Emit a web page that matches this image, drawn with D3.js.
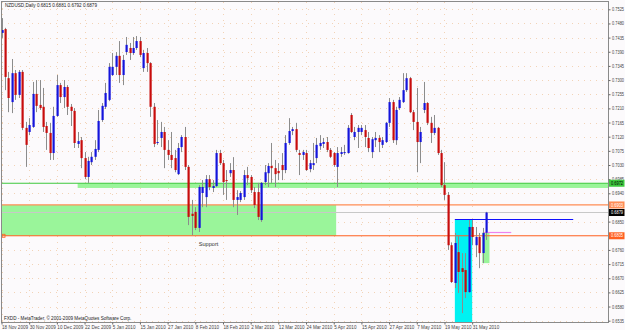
<!DOCTYPE html>
<html><head><meta charset="utf-8">
<script src="https://cdn.jsdelivr.net/npm/d3@7"></script>
<style>
body { margin: 0; background: #fcfafc; }
text { font-family: 'Liberation Sans', Arial, sans-serif; }
</style></head>
<body>
<svg id="chart" width="625" height="330"></svg>
<script>
// NZDUSD daily bars, 18 Nov 2009 -> early Jun 2010
const opens = [.7450,.7462,.7306,.7230,.7322,.7253,.7326,.7148,.7135,.7151,.7256,.7221,.7215,.7154,.7132,.7068,.7186,.7284,.7246,.7278,
	.7215,.7202,.7097,.7109,.7052,.6992,.7039,.7056,.7078,.7173,.7215,.7237,.7316,.7342,.7377,.7316,.7389,.7402,.7386,.7402,
	.7424,.7338,.7386,.7354,.7215,.7100,.7116,.7135,.7078,.7062,.7052,.7001,.7087,.7119,.7024,.6875,.6881,.6830,.6941,.6928,
	.6985,.6957,.6963,.7068,.7036,.6982,.7004,.7014,.6919,.6919,.6928,.6998,.6992,.6944,.6944,.6855,.6976,.7004,.7027,.7020,
	.7011,.7030,.7014,.7100,.7138,.7144,.7068,.7062,.7068,.7017,.7030,.7052,.7090,.7097,.7103,.7078,.7068,.7024,.7065,.7068,
	.7068,.7189,.7119,.7135,.7135,.7141,.7116,.7071,.7109,.7116,.7094,.7103,.7164,.7230,.7109,.7211,.7230,.7268,.7306,.7198,
	.7167,.7103,.7205,.7227,.7164,.7132,.7148,.7068,.6966,.6935,.6775,.6655,.6753,.6702,.6696,.6626,.6833,.6775,.6801,.6750,.6815]
const highs = [.7497,.7466,.7326,.7367,.7332,.7332,.7332,.7167,.7179,.7294,.7300,.7300,.7275,.7167,.7164,.7215,.7316,.7291,.7300,.7284,
	.7224,.7211,.7135,.7119,.7071,.7056,.7071,.7109,.7205,.7227,.7291,.7354,.7386,.7389,.7424,.7380,.7437,.7418,.7437,.7440,
	.7437,.7396,.7402,.7357,.7227,.7173,.7167,.7151,.7109,.7135,.7078,.7100,.7125,.7151,.7030,.6919,.6896,.6966,.6982,.6998,
	.6998,.6982,.7078,.7078,.7046,.7014,.7036,.7055,.6950,.6947,.7014,.7024,.6998,.6960,.6973,.6976,.7030,.7036,.7100,.7046,
	.7036,.7068,.7125,.7179,.7151,.7164,.7078,.7078,.7078,.7046,.7100,.7116,.7125,.7116,.7119,.7084,.7071,.7087,.7087,.7094,
	.7157,.7195,.7151,.7157,.7157,.7157,.7135,.7119,.7135,.7125,.7119,.7167,.7243,.7237,.7215,.7246,.7322,.7322,.7310,.7205,
	.7275,.7151,.7294,.7230,.7183,.7189,.7151,.7078,.7039,.6944,.6784,.6814,.6807,.6750,.6750,.6855,.6855,.6833,.6814,.6830,.6881]
const lows = [.7434,.7268,.7198,.7195,.7237,.7243,.7141,.7024,.7125,.7148,.7198,.7205,.7135,.7078,.7046,.7046,.7183,.7227,.7211,.7189,
	.7154,.7084,.7084,.7020,.6985,.6973,.7030,.7046,.7071,.7167,.7208,.7233,.7313,.7316,.7291,.7284,.7380,.7364,.7380,.7396,
	.7373,.7326,.7326,.7183,.7087,.7094,.7087,.7020,.7046,.7020,.7007,.6998,.7071,.7014,.6839,.6807,.6823,.6817,.6896,.6896,
	.6950,.6944,.6960,.7030,.6935,.6919,.6992,.6896,.6871,.6912,.6919,.6966,.6941,.6893,.6855,.6849,.6966,.6960,.6973,.6960,
	.6982,.6982,.7004,.7094,.7125,.7071,.6998,.7046,.7011,.7007,.7014,.7036,.7078,.7084,.7071,.7052,.7024,.6960,.7056,.7062,
	.7066,.7132,.7109,.7084,.7125,.7087,.7071,.7052,.7087,.7071,.7084,.7100,.7151,.7100,.7094,.7205,.7227,.7262,.7195,.7141,
	.7007,.7036,.7195,.7157,.7100,.7125,.7062,.6960,.6919,.6760,.6655,.6639,.6623,.6559,.6607,.6623,.6775,.6737,.6702,.6718,.6792]
const closes = [.7459,.7310,.7243,.7322,.7253,.7326,.7148,.7094,.7157,.7256,.7218,.7211,.7151,.7132,.7068,.7186,.7284,.7246,.7278,.7215,
	.7202,.7100,.7106,.7052,.6992,.7043,.7056,.7081,.7170,.7218,.7259,.7342,.7342,.7377,.7316,.7364,.7412,.7386,.7402,.7424,
	.7380,.7386,.7354,.7215,.7097,.7103,.7135,.7078,.7062,.7046,.7014,.7084,.7119,.7024,.6865,.6868,.6830,.6960,.6960,.6985,
	.6960,.6963,.7068,.7036,.6976,.6979,.7014,.6919,.6928,.6941,.6998,.6988,.6950,.6903,.6865,.6973,.7007,.7027,.7020,.7001,
	.7004,.7014,.7100,.7138,.7144,.7078,.7062,.7071,.7014,.7036,.7036,.7094,.7100,.7103,.7078,.7056,.7030,.7068,.7071,.7071,
	.7148,.7135,.7135,.7148,.7148,.7119,.7084,.7112,.7116,.7103,.7109,.7164,.7230,.7109,.7205,.7237,.7268,.7306,.7198,.7167,
	.7103,.7135,.7227,.7164,.7132,.7148,.7068,.6966,.6935,.6775,.6658,.6782,.6690,.6690,.6626,.6833,.6801,.6801,.6750,.6814,.6879]

const dateLabels = ['18 Nov 2009','30 Nov 2009','10 Dec 2009','22 Dec 2009','5 Jan 2010','15 Jan 2010','27 Jan 2010','8 Feb 2010',
	'18 Feb 2010','2 Mar 2010','12 Mar 2010','24 Mar 2010','5 Apr 2010','15 Apr 2010','27 Apr 2010','7 May 2010','19 May 2010','31 May 2010']
const barsPerLabel = 8
const priceTicks = [.7525,.7480,.7435,.7390,.7345,.7300,.7255,.7210,.7165,.7120,.7075,.7030,.6985,.6940,.6850,.6760,.6715,.6670,.6625,.6580,.6535]

// horizontal levels: resistance, upper support, bid, lower support
const levels = [.6972, .6903, .6879, .6805]
// zones as [fromBar, toBar, lowPrice, highPrice]
const supportZone = [0, 96.7, .6805, .6903]
const resistBand = [22, 176, .6957, .6972]
const cyanBox = [131, 136, .6400, .6857]
const smallBox = [138.9, 141, .6718, .6815]
// segments as [fromBar, toBar, price]
const blueSeg = [131, 165.2, .6857]
const violetSeg = [139.2, 147.3, .6817]

const levelStyle = [
	{ line: '#3ec83e', box: '#3ec83e', txt: '#000', w: 1.2 },
	{ line: '#ff8c55', box: '#ff8c55', txt: '#fff', w: 1.2 },
	{ line: '#c8c8c8', box: '#000', txt: '#fff', w: 1 },
	{ line: '#ff5f1f', box: '#ff5f1f', txt: '#fff', w: 1 }]

const L = 2, R = 608, T = 2, B = 322
const x = d3.scaleLinear().domain([0, 140]).range([1.5, 486])
const y = d3.scaleLinear().domain([.6535, .7525]).range([320.7, 9.3])
const svg = d3.select('#chart')

svg.append('rect').attr('width', 625).attr('height', 330).attr('fill', '#fcfafc')
svg.append('defs').append('clipPath').attr('id', 'plot')
	.append('rect').attr('x', L).attr('y', T).attr('width', R - L).attr('height', B - T)
const g = svg.append('g').attr('clip-path', 'url(#plot)')

// dotted grid
g.selectAll('line.hg').data(priceTicks).join('line').attr('class', 'hg')
	.attr('x1', L).attr('x2', R).attr('y1', d => Math.round(y(d)) + .5).attr('y2', d => Math.round(y(d)) + .5)
	.attr('stroke', '#efc9a4').attr('stroke-dasharray', '1 5').attr('stroke-width', .8)
g.selectAll('line.vg').data(dateLabels.map((d, k) => k * barsPerLabel)).join('line').attr('class', 'vg')
	.attr('x1', d => Math.round(x(d)) + .5).attr('x2', d => Math.round(x(d)) + .5).attr('y1', T).attr('y2', B)
	.attr('stroke', '#efc9a4').attr('stroke-dasharray', '1 5').attr('stroke-width', .8)

const zone = (z, fill) => g.append('rect')
	.attr('x', x(z[0])).attr('width', x(z[1]) - x(z[0]))
	.attr('y', y(z[3])).attr('height', y(z[2]) - y(z[3])).attr('fill', fill)
zone(supportZone, '#9af59a')
zone(resistBand, '#9af59a')
zone(cyanBox, '#00f2f2')
zone(smallBox, '#9af59a')

// level lines
g.selectAll('line.lvl').data(levels).join('line').attr('class', 'lvl')
	.attr('x1', L).attr('x2', R).attr('y1', d => y(d)).attr('y2', d => y(d))
	.attr('stroke', (d, i) => levelStyle[i].line).attr('stroke-width', (d, i) => levelStyle[i].w)
g.append('rect').attr('x', L).attr('y', y(levels[3]) - 1.5).attr('width', 3).attr('height', 3)
	.attr('fill', 'none').attr('stroke', '#ff5f1f').attr('stroke-width', .8)

const seg = (s, color) => g.append('line')
	.attr('x1', x(s[0])).attr('x2', x(s[1])).attr('y1', Math.round(y(s[2])) + .5).attr('y2', Math.round(y(s[2])) + .5)
	.attr('stroke', color).attr('stroke-width', 1.2)
seg(blueSeg, '#1010ff')
seg(violetSeg, '#ee82ee')

// candles
const bars = opens.map((o, i) => ({ i, o, h: highs[i], l: lows[i], c: closes[i] }))
const candle = g.selectAll('g.candle').data(bars).join('g').attr('class', 'candle')
candle.append('line')
	.attr('x1', d => Math.round(x(d.i)) + .5).attr('x2', d => Math.round(x(d.i)) + .5)
	.attr('y1', d => y(d.h)).attr('y2', d => y(d.l))
	.attr('stroke', '#8c8c8c').attr('stroke-width', 1)
candle.append('rect')
	.attr('x', d => Math.round(x(d.i)) - .5).attr('width', 2.2)
	.attr('y', d => y(Math.max(d.o, d.c)))
	.attr('height', d => Math.max(1, Math.abs(y(d.o) - y(d.c))))
	.attr('fill', d => d.c >= d.o ? '#1414dc' : '#c80c0c')

g.append('text').attr('x', x(57)).attr('y', y(.6774))
	.attr('font-size', 5.6).attr('fill', '#333').text('Support')

// frame
svg.append('rect').attr('x', L - .5).attr('y', T - .5).attr('width', R - L + 1).attr('height', B - T + 1)
	.attr('fill', 'none').attr('stroke', '#8a8a8a')

// right price axis
const yAxis = svg.append('g').attr('transform', `translate(${R + .5},0)`)
	.call(d3.axisRight(y).tickValues(priceTicks).tickSize(2).tickPadding(1.5).tickFormat(d3.format('.4f')))
yAxis.select('.domain').remove()
yAxis.selectAll('line').attr('stroke', '#666')
yAxis.selectAll('text').attr('font-size', 4.6).attr('fill', '#444').attr('font-family', "'Liberation Sans', Arial")
	.attr('textLength', 12).attr('lengthAdjust', 'spacingAndGlyphs')

// level boxes
const tag = svg.selectAll('g.tag').data(levels).join('g').attr('class', 'tag')
	.attr('transform', d => `translate(${R + 1},${y(d)})`)
tag.append('rect').attr('x', 0).attr('y', -3.5).attr('width', 15.5).attr('height', 7)
	.attr('fill', (d, i) => levelStyle[i].box)
tag.append('text').attr('x', 2).attr('y', 1.7).attr('font-size', 4.6)
	.attr('textLength', 12).attr('lengthAdjust', 'spacingAndGlyphs')
	.attr('fill', (d, i) => levelStyle[i].txt).text(d => d.toFixed(4))

// bottom date axis
const xAxis = svg.append('g').attr('transform', `translate(0,${B + .5})`)
	.call(d3.axisBottom(x).tickValues(dateLabels.map((d, k) => k * barsPerLabel))
		.tickFormat((d, k) => dateLabels[k]).tickSize(2).tickPadding(1))
xAxis.select('.domain').remove()
xAxis.selectAll('line').attr('stroke', '#666')
xAxis.selectAll('text').attr('font-size', 4.6).attr('fill', '#444').attr('text-anchor', 'start')
	.attr('font-family', "'Liberation Sans', Arial")

// title + footer
const last = bars[bars.length - 1]
svg.append('text').attr('x', 5).attr('y', 7).attr('font-size', 4.6).attr('fill', '#222')
	.text(`NZDUSD,Daily  ${[last.o, last.h, last.l, last.c].map(v => v.toFixed(4)).join(' ')}`)
svg.append('text').attr('x', 4).attr('y', 320).attr('font-size', 4.6).attr('fill', '#222')
	.text('FXDD - MetaTrader, © 2001-2009 MetaQuotes Software Corp.')
</script>
</body></html>
